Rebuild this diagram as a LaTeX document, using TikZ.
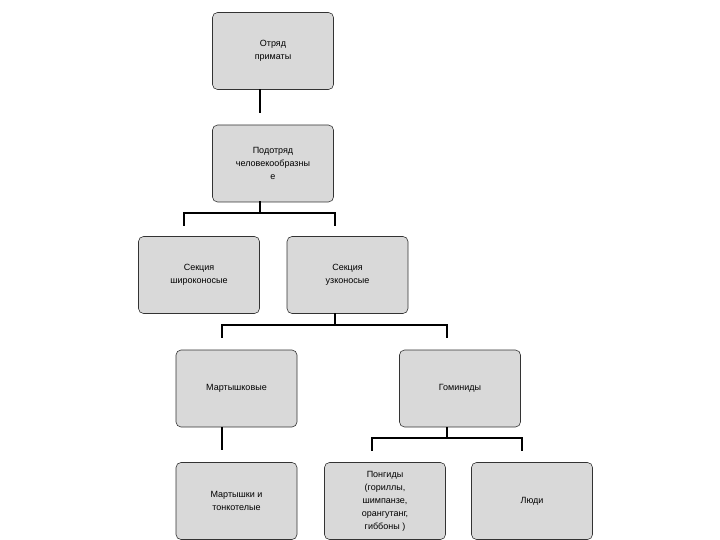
\documentclass[tikz,border=0pt]{standalone}
\usepackage{fontspec}
\setmainfont{Liberation Sans}
\begin{document}
\begin{tikzpicture}[x=1pt,y=-1pt,
 box/.style={draw=black!80,fill=black!15,rounded corners=5pt,minimum width=121pt,minimum height=77pt,align=center,inner sep=2pt,font=\fontsize{9}{13}\selectfont,line width=0.6pt},
 conn/.style={line width=1.6pt,line cap=rect}]
\useasboundingbox (0,0) rectangle (720,540);
\node[box] (a) at (273,51) {Отряд\\приматы};
\node[box] (b) at (273,163.5) {Подотряд\\человекообразны\\е};
\node[box] (c) at (199,275) {Секция\\широконосые};
\node[box] (d) at (347.5,275) {Секция\\узконосые};
\node[box] (e) at (236.5,388.5) {Мартышковые};
\node[box] (f) at (460,388.5) {Гоминиды};
\node[box] (g) at (236.5,501) {Мартышки и\\тонкотелые};
\node[box] (h) at (385,501) {Понгиды\\(гориллы,\\шимпанзе,\\орангутанг,\\гиббоны )};
\node[box] (i) at (532,501) {Люди};
\coordinate (ab) at (260,112);
\draw[conn] (a.south -| ab) -- (ab);
\coordinate (c1) at (184,225); \coordinate (c2) at (335,225);
\draw[conn] (b.south -| 260,0) -- (260,213) -| (c1);
\draw[conn] (260,213) -| (c2);
\coordinate (e1) at (222,337); \coordinate (e2) at (447,337);
\draw[conn] (d.south -| 335,0) -- (335,325) -| (e1);
\draw[conn] (335,325) -| (e2);
\coordinate (g1) at (222,449);
\draw[conn] (e.south -| g1) -- (g1);
\coordinate (h1) at (372,450); \coordinate (i1) at (522,450);
\draw[conn] (f.south -| 447,0) -- (447,438) -| (h1);
\draw[conn] (447,438) -| (i1);
\end{tikzpicture}
\end{document}
